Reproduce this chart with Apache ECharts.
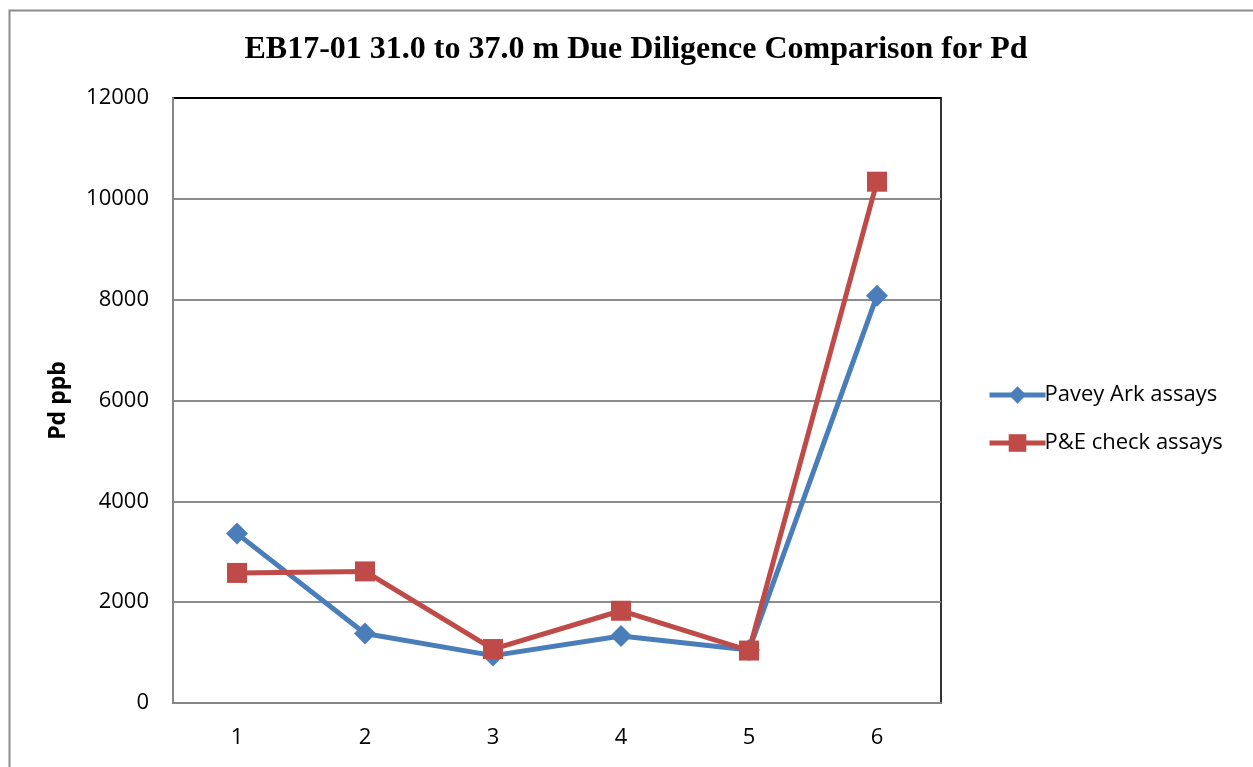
<!DOCTYPE html>
<html>
<head>
<meta charset="utf-8">
<script src="https://cdn.jsdelivr.net/npm/echarts@6/dist/echarts.min.js"></script>
<style>
  html, body { margin: 0; padding: 0; background: #fff; }
  #chart { width: 1253px; height: 767px; }
</style>
</head>
<body>
<div id="chart"></div>
<script>
// 数据
const categories = ['1', '2', '3', '4', '5', '6']
const paveyArk = [3360, 1380, 940, 1330, 1050, 8080]
const peCheck = [2580, 2610, 1070, 1830, 1040, 10340]

const chart = echarts.init(document.getElementById('chart'))

const option = {
  animation: false,
  title: {
    text: 'EB17-01 31.0 to 37.0 m Due Diligence Comparison for Pd',
    left: 631,
    textAlign: 'center',
    top: 29,
    textStyle: {
      fontFamily: 'Liberation Serif',
      fontWeight: 'bold',
      fontSize: 32,
      color: '#000'
    }
  },
  // 外框
  graphic: [
    {
      type: 'rect',
      left: 7,
      top: 8,
      shape: { width: 1400, height: 900 },
      style: { fill: 'none', stroke: '#8c8c8c', lineWidth: 2 },
      silent: true
    }
  ],
  legend: {
    orient: 'vertical',
    left: 982,
    top: 379,
    itemWidth: 56,
    itemHeight: 22,
    itemGap: 26,
    lineStyle: { width: 5 },
    textStyle: {
      fontFamily: 'Open Sans',
      fontSize: 22,
      color: '#000',
      padding: [0, 0, 0, -6]
    },
    data: ['Pavey Ark assays', 'P&E check assays']
  },
  grid: {
    left: 173,
    right: 312,
    top: 98,
    bottom: 64,
    show: true,
    borderColor: '#333',
    borderWidth: 2
  },
  xAxis: {
    type: 'category',
    data: categories,
    boundaryGap: true,
    axisLine: { lineStyle: { color: '#868686', width: 2 } },
    axisTick: { show: false },
    axisLabel: {
      fontFamily: 'Open Sans',
      fontSize: 22,
      color: '#000',
      margin: 24
    }
  },
  yAxis: {
    type: 'value',
    min: 0,
    max: 12000,
    interval: 2000,
    name: 'Pd ppb',
    nameLocation: 'middle',
    nameGap: 103,
    nameTextStyle: {
      fontFamily: 'Open Sans',
      fontWeight: 'bold',
      fontSize: 23,
      color: '#000'
    },
    axisLine: { show: true, lineStyle: { color: '#868686', width: 2 } },
    axisTick: { show: false },
    axisLabel: {
      fontFamily: 'Open Sans',
      fontSize: 22,
      color: '#000',
      margin: 24,
      formatter: v => String(v)
    },
    splitLine: {
      lineStyle: {
        color: ['#8c8c8c', '#8c8c8c', '#8c8c8c', '#8c8c8c', '#8c8c8c', '#8c8c8c', '#000'],
        width: 2
      }
    }
  },
  series: [
    {
      name: 'Pavey Ark assays',
      type: 'line',
      data: paveyArk,
      symbol: 'diamond',
      symbolSize: 22,
      lineStyle: { color: '#4a7ebb', width: 5 },
      itemStyle: { color: '#4a7ebb' }
    },
    {
      name: 'P&E check assays',
      type: 'line',
      data: peCheck,
      symbol: 'rect',
      symbolSize: 20,
      lineStyle: { color: '#be4b48', width: 5 },
      itemStyle: { color: '#be4b48' }
    }
  ]
}

chart.setOption(option)
</script>
</body>
</html>
